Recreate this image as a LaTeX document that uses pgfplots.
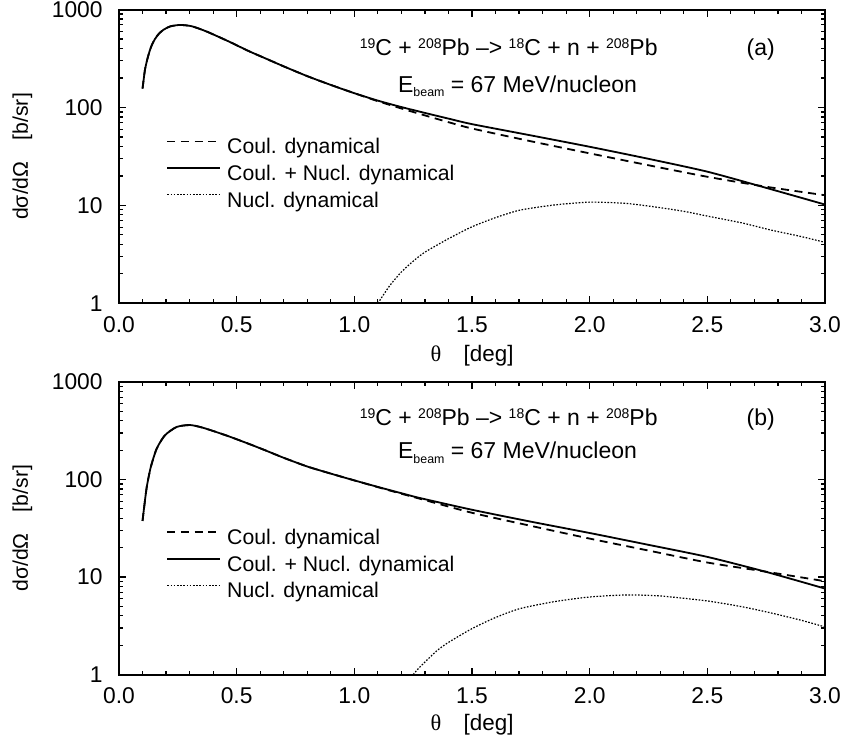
\documentclass[border=0pt]{standalone}
\usepackage{fontspec}
\setmainfont{Liberation Sans}
\newfontfamily\serif{Liberation Serif}
\usepackage{pgfplots}
\pgfplotsset{compat=1.18}

\pgfplotstableread{
x y
0.100 156
0.110 240
0.120 309
0.130 376
0.140 437
0.153 501
0.170 569
0.190 624
0.217 673
0.259 697
0.309 676
0.373 596
0.471 467
0.550 378
0.628 313
0.700 263
0.800 209
0.900 170
1.000 140
1.100 117.5
1.200 101
1.300 88
1.400 77
1.500 67.6
1.750 51.9
2.000 39.7
2.250 29.9
2.500 22.1
2.750 15.1
3.000 10.2
}\Asolid
\pgfplotstableread{
x y
0.100 156
0.110 240
0.120 309
0.130 376
0.140 437
0.153 501
0.170 569
0.190 624
0.217 673
0.259 697
0.309 676
0.373 596
0.471 467
0.550 378
0.628 313
0.700 263
0.800 209
0.900 170
1.000 140
1.100 116
1.200 97.7
1.300 83
1.400 70.8
1.500 61
1.750 45.2
2.000 34
2.250 25.7
2.500 19.6
2.750 15.5
3.000 12.7
}\Adash
\pgfplotstableread{
x y
1.100 1.0
1.150 1.51
1.200 2.09
1.250 2.69
1.300 3.33
1.400 4.57
1.500 6.05
1.600 7.5
1.704 8.95
1.850 10.1
2.000 10.8
2.150 10.5
2.270 9.7
2.400 8.7
2.500 7.78
2.650 6.6
2.770 5.6
2.900 4.8
3.000 4.19
}\Adot

\pgfplotstableread{
x y
0.100 37.6
0.106 50
0.118 84
0.135 134
0.160 207
0.195 284
0.245 346
0.302 362
0.358 339
0.458 282
0.550 233
0.620 200
0.700 167
0.800 136
0.900 115
1.000 98
1.100 84
1.200 72.4
1.279 64.6
1.500 49
1.750 37
2.000 28.3
2.250 21.4
2.500 16.1
2.750 11.3
3.000 7.62
}\Bsolid
\pgfplotstableread{
x y
0.100 37.6
0.106 50
0.118 84
0.135 134
0.160 207
0.195 284
0.245 346
0.302 362
0.358 339
0.458 282
0.550 233
0.620 200
0.700 167
0.800 136
0.900 115
1.000 98
1.100 83.5
1.200 71.5
1.279 63.5
1.500 45.6
1.750 33.5
2.000 24.8
2.250 18.7
2.500 14.1
2.750 11.35
3.000 9.06
}\Bdash
\pgfplotstableread{
x y
1.250 1.0
1.279 1.2
1.350 1.75
1.400 2.14
1.500 2.96
1.600 3.85
1.704 4.75
1.850 5.6
2.000 6.25
2.157 6.56
2.300 6.4
2.500 5.69
2.650 4.95
2.770 4.29
2.900 3.6
3.000 3.08
}\Bdot

\pgfplotsset{
  legend image code/.code={\draw[#1] (0pt,3.4pt) -- (26.5pt,3.4pt); \path (29.5pt,0pt);},
  every axis y label/.style={at={(axis description cs:-0.1367,0.5)}, rotate=90, anchor=center, font=\fontsize{10.6}{12}\selectfont},
  every axis x label/.style={at={(axis description cs:0.5,0)}, anchor=center, font=\fontsize{11.2}{13}\selectfont},
}
\tikzset{
  soln/.style={black, line width=0.9pt, smooth, tension=0.4},
  dashl/.style={black, line width=0.9pt, dash pattern=on 4pt off 2.8pt, smooth, tension=0.4},
  dotl/.style={black, line width=0.6pt, dash pattern=on 0.8pt off 0.8pt, smooth, tension=0.4},
}
\newcommand{\fs}{\fontsize{11.4}{13}\selectfont}
\newcommand{\fa}{\fontsize{11.5}{13}\selectfont}
\newcommand{\supnum}[1]{\raisebox{3.6pt}{\fontsize{7}{8}\selectfont #1}}
\newcommand{\titleline}{\supnum{19}C + \supnum{208}Pb {--}> \supnum{18}C + n + \supnum{208}Pb}
\newcommand{\ebeam}{E\raisebox{-2.2pt}{\fontsize{6.2}{7}\selectfont beam} = 67 MeV/nucleon}

\begin{document}
\begin{tikzpicture}
\begin{axis}[
    scale only axis, width=353pt, height=146.85pt, at={(0,0)}, anchor=south west,
    xmin=0, xmax=3, ymode=log, ymin=1, ymax=1000,
    xtick={0,0.5,1,1.5,2,2.5,3},
    xticklabels={0.0,0.5,1.0,1.5,2.0,2.5,3.0},
    minor x tick num=4,
    ytick={1,10,100,1000}, yticklabels={1,10,100,1000},
    minor ytick={2,3,4,5,6,7,8,9,20,30,40,50,60,70,80,90,200,300,400,500,600,700,800,900},
    tick align=inside, major tick length=3.5pt, minor tick length=2pt,
    axis line style={line width=1pt},
    every tick/.style={black, line width=0.6pt},
    /pgf/number format/assume math mode=true,
    every tick label/.append style={font=\fs, inner sep=0pt},
    xticklabel style={anchor=north, yshift=-6.5pt},
    yticklabel style={anchor=east, xshift=-8pt},
    xlabel={{\serif θ}\quad[deg]},
    xlabel style={yshift=-26pt},
    ylabel={dσ/dΩ\quad[b/sr]},
    legend cell align=left,
    legend style={draw=none, fill=none, inner sep=0pt, font=\fontsize{10.6}{12}\selectfont,
      nodes={inner sep=0pt, text height=7.6pt, text depth=2pt}, row sep=3.75pt,
      anchor=north west, at={(axis description cs:0.0666,0.562)}},
  ]
\addplot[dashl] table[x=x,y=y] {\Adash};
\addlegendentry{Coul. dynamical}
\addplot[soln] table[x=x,y=y] {\Asolid};
\addlegendentry{Coul. + Nucl. dynamical}
\addplot[dotl] table[x=x,y=y] {\Adot};
\addlegendentry{Nucl. dynamical}
\node[anchor=base, font=\fa] at (axis description cs:0.552,0.844) {\titleline};
\node[anchor=base, font=\fa] at (axis description cs:0.909,0.844) {(a)};
\node[anchor=base, font=\fa] at (axis description cs:0.5645,0.719) {\ebeam};
\end{axis}

\begin{axis}[
    scale only axis, width=353pt, height=146.3pt, at={(0,-39.35pt)}, anchor=north west,
    xmin=0, xmax=3, ymode=log, ymin=1, ymax=1000,
    xtick={0,0.5,1,1.5,2,2.5,3},
    xticklabels={0.0,0.5,1.0,1.5,2.0,2.5,3.0},
    minor x tick num=4,
    ytick={1,10,100,1000}, yticklabels={1,10,100,1000},
    minor ytick={2,3,4,5,6,7,8,9,20,30,40,50,60,70,80,90,200,300,400,500,600,700,800,900},
    tick align=inside, major tick length=3.5pt, minor tick length=2pt,
    axis line style={line width=1pt},
    every tick/.style={black, line width=0.6pt},
    /pgf/number format/assume math mode=true,
    every tick label/.append style={font=\fs, inner sep=0pt},
    xticklabel style={anchor=north, yshift=-6.5pt},
    yticklabel style={anchor=east, xshift=-8pt},
    xlabel={{\serif θ}\quad[deg]},
    xlabel style={yshift=-25pt},
    ylabel={dσ/dΩ\quad[b/sr]},
    legend cell align=left,
    legend style={draw=none, fill=none, inner sep=0pt, font=\fontsize{10.6}{12}\selectfont,
      nodes={inner sep=0pt, text height=7.6pt, text depth=2pt}, row sep=3.75pt,
      anchor=north west, at={(axis description cs:0.0666,0.498)}},
  ]
\addplot[dashl] table[x=x,y=y] {\Bdash};
\addlegendentry{Coul. dynamical}
\addplot[soln] table[x=x,y=y] {\Bsolid};
\addlegendentry{Coul. + Nucl. dynamical}
\addplot[dotl] table[x=x,y=y] {\Bdot};
\addlegendentry{Nucl. dynamical}
\node[anchor=base, font=\fa] at (axis description cs:0.552,0.852) {\titleline};
\node[anchor=base, font=\fa] at (axis description cs:0.909,0.852) {(b)};
\node[anchor=base, font=\fa] at (axis description cs:0.5645,0.738) {\ebeam};
\end{axis}
\pgfresetboundingbox
\path[use as bounding box] (-59.5pt,-219.5pt) rectangle (362.5pt,151.65pt);
\end{tikzpicture}
\end{document}
